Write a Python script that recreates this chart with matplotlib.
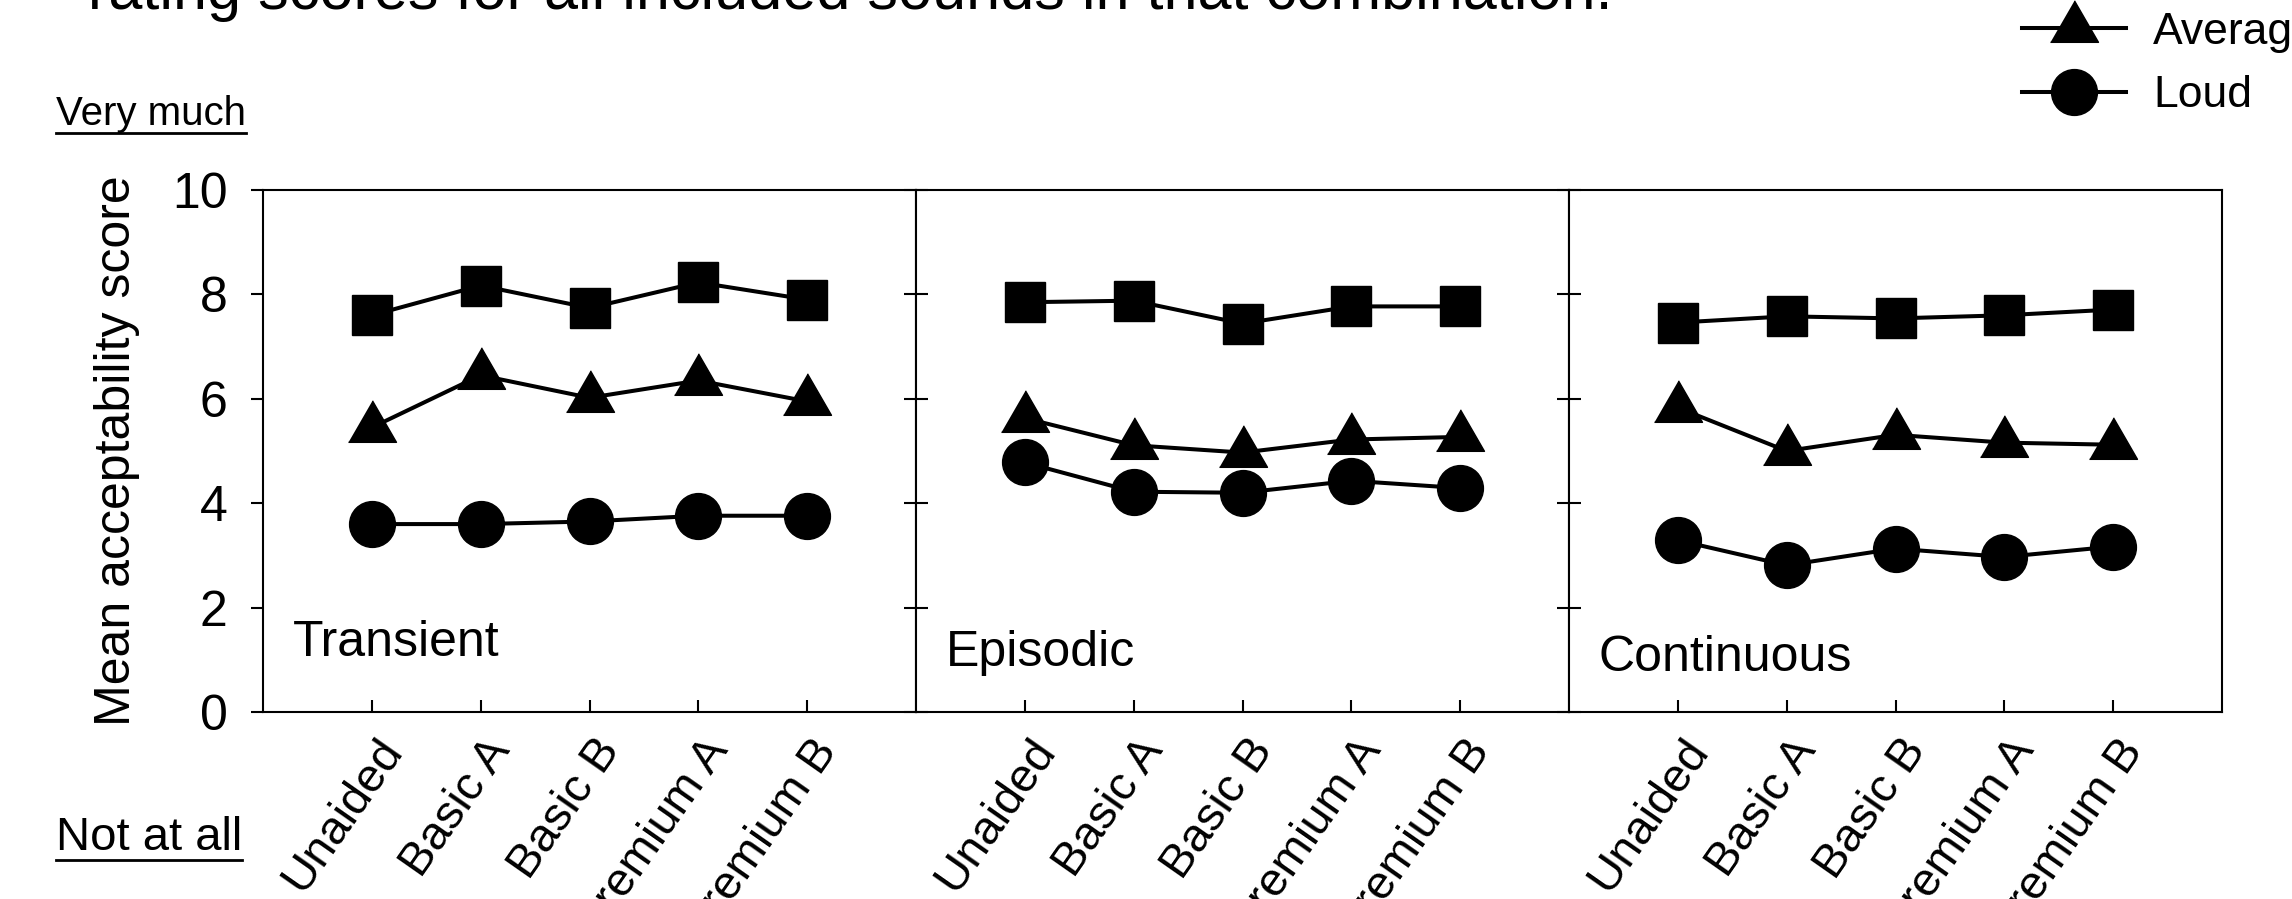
import matplotlib
matplotlib.use("Agg")
import matplotlib.pyplot as plt
from matplotlib.lines import Line2D
from matplotlib.transforms import ScaledTranslation

plt.rcParams["font.family"] = ["Liberation Sans", "DejaVu Sans"]

DEVICES = ["Unaided", "Basic A", "Basic B", "Premium A", "Premium B"]
PANELS = ["Transient", "Episodic", "Continuous"]

# mean acceptability per panel (Transient, Episodic, Continuous)
SOFT = [
    [7.60, 8.17, 7.74, 8.23, 7.90],
    [7.85, 7.88, 7.44, 7.77, 7.77],
    [7.46, 7.58, 7.54, 7.60, 7.71],
]
AVERAGE = [
    [5.45, 6.45, 6.02, 6.35, 5.95],
    [5.63, 5.11, 4.97, 5.22, 5.27],
    [5.83, 5.00, 5.31, 5.16, 5.12],
]
LOUD = [
    [3.60, 3.60, 3.65, 3.76, 3.76],
    [4.78, 4.22, 4.20, 4.43, 4.29],
    [3.29, 2.81, 3.13, 2.97, 3.17],
]

W, H = 2292, 899
TRI = [(-1, -0.577), (1, -0.577), (0, 1.155)]
LABEL_Y = [1.32, 1.13, 1.03]

fig = plt.figure(figsize=(W / 100, H / 100), dpi=100)

left, bottom, pw, ph = 263 / W, 1 - 712 / H, 653 / W, 522 / H
x = list(range(1, len(DEVICES) + 1))
handles = []
for i, name in enumerate(PANELS):
    ax = fig.add_axes([left + i * pw, bottom, pw, ph])
    style = dict(color="black", lw=2.9, clip_on=False)
    ax.plot(x, SOFT[i], marker="s", ms=29.5, **style)
    l_avg, = ax.plot(x, AVERAGE[i], marker=TRI, ms=39.9, **style)
    l_loud, = ax.plot(x, LOUD[i], marker="o", ms=33, **style)
    if i == 0:
        handles = [l_avg, l_loud]
    ax.set_xlim(0, 6)
    ax.set_ylim(0, 10)
    ax.set_yticks(range(0, 11, 2))
    ax.set_xticks(x)
    ax.set_xticklabels(DEVICES)
    for s in ax.spines.values():
        s.set_linewidth(1.5)
    if i == 0:
        ax.tick_params(axis="y", direction="out", length=8.5, width=1.5,
                       labelsize=36, pad=17)
    else:
        ax.tick_params(axis="y", direction="inout", length=17, width=1.5,
                       labelleft=False)
    ax.tick_params(axis="x", direction="in", length=9, width=1.5,
                   labelsize=34, pad=13.5)
    off = ScaledTranslation(0.03, 0, fig.dpi_scale_trans)
    for lab in ax.get_xticklabels():
        lab.set_rotation(55)
        lab.set_ha("right")
        lab.set_va("top")
        lab.set_rotation_mode("anchor")
        lab.set_transform(lab.get_transform() + off)
    ax.text(0.27, LABEL_Y[i], name, fontsize=36, va="center", ha="left")

fig.text(88 / W, 1 - 8.5 / H,
         "rating scores for all included sounds in that combination.",
         fontsize=44, va="baseline", ha="left")
fig.text(117 / W, 1 - 451 / H, "Mean acceptability score", rotation=90,
         fontsize=36, va="center", ha="center")

t_top = fig.text(56 / W, 1 - 114 / H, "Very much", fontsize=29, va="center")
t_bot = fig.text(56 / W, 1 - 838 / H, "Not at all", fontsize=34, va="center")

fig.legend(handles=handles, labels=["Average", "Loud"], loc="center left",
           bbox_to_anchor=(2022 / W, 1 - 64 / H), frameon=False, fontsize=32,
           handlelength=2.35, handletextpad=0.6, labelspacing=0.5,
           borderpad=0, borderaxespad=0)

# underline the scale anchors
fig.canvas.draw()
r = fig.canvas.get_renderer()
for t in (t_top, t_bot):
    bb = t.get_window_extent(r)
    fig.add_artist(Line2D([bb.x0 / W, bb.x1 / W], [bb.y0 / H, bb.y0 / H],
                          transform=fig.transFigure, color="black", lw=2))

fig.savefig("out.png", dpi=100)
